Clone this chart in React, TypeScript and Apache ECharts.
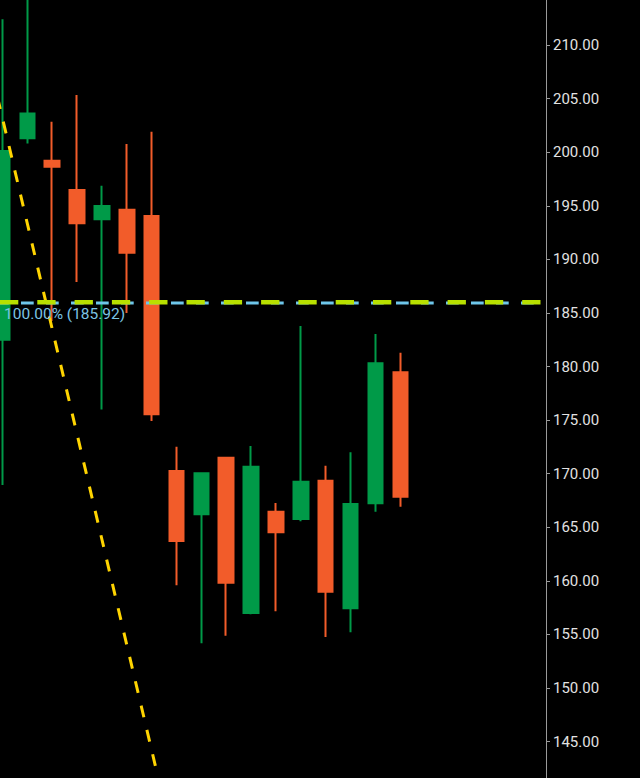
import React, { useEffect, useRef } from 'react';
import * as echarts from 'echarts';

// slots on the time axis (17 candles + empty space on the right)
const categories = Array.from({ length: 22 }, (_, i) => String(i + 1));
const opens = [182.5, 201.3, 199.2, 196.47, 193.74, 194.63, 194.04, 170.25, 166.21, 171.5, 157.0, 166.46, 165.78, 169.35, 157.44, 167.24, 179.46];
const closes = [200.1, 203.6, 198.65, 193.36, 194.98, 190.62, 175.54, 163.72, 170.04, 159.83, 170.65, 164.53, 169.26, 158.99, 167.18, 180.3, 167.86];
const lows = [168.95, 200.8, 184.25, 187.9, 176.0, 185.0, 174.92, 159.59, 154.18, 154.89, 156.9, 157.16, 165.56, 154.77, 155.2, 166.46, 166.92];
const highs = [212.4, 215.5, 202.85, 205.33, 196.87, 200.76, 201.9, 172.52, 170.1, 171.55, 172.59, 167.27, 183.78, 170.75, 172.0, 183.04, 181.29];

const yTicks = [145, 150, 155, 160, 165, 170, 175, 180, 185, 190, 195, 200, 205, 210];
const fibPercent = 100;
const fibLevel = 185.92;
const resistanceLevel = 186.0;
const trendX = [-0.2, 6.5];
const trendY = [205.12, 139.29];

const Y_MIN = 141.61;
const Y_MAX = 214.2;
const X_MIN = -0.1006;
const X_MAX = 21.862;

const GREEN = '#009a48';
const ORANGE = '#f25c2a';

export default function App() {
  const ref = useRef<HTMLDivElement>(null);
  useEffect(() => {
    if (!ref.current) return;
    const chart = echarts.init(ref.current, undefined, { renderer: 'svg' });
    const candleData = opens.map((o, i) => [o, closes[i], lows[i], highs[i]]);
    chart.setOption({
      animation: false,
      backgroundColor: '#000000',
      grid: [
        { left: 2.5, top: 0, width: 24.86 * (categories.length - 1), height: 778, containLabel: false },
        { left: 0, top: 0, width: 546, height: 778, containLabel: false },
      ],
      xAxis: [
        { type: 'category', gridIndex: 0, data: categories, boundaryGap: false, show: false },
        { type: 'value', gridIndex: 1, min: X_MIN, max: X_MAX, show: false },
      ],
      yAxis: [
        { type: 'value', gridIndex: 0, min: Y_MIN, max: Y_MAX, show: false, splitLine: { show: false } },
        {
          type: 'value',
          gridIndex: 1,
          min: Y_MIN,
          max: Y_MAX,
          position: 'right',
          splitLine: { show: false },
          axisLine: { show: true, onZero: false, lineStyle: { color: '#9a9a9a', width: 1 } },
          axisTick: { show: true, length: 4, customValues: yTicks, lineStyle: { color: '#9a9a9a', width: 1 } },
          axisLabel: {
            show: true,
            customValues: yTicks,
            margin: 7,
            color: '#e2e2e2',
            fontSize: 15,
            fontFamily: 'Roboto',
            formatter: (v: number) => v.toFixed(2),
          },
        },
      ],
      series: [
        {
          type: 'candlestick',
          xAxisIndex: 0,
          yAxisIndex: 0,
          data: candleData,
          barWidth: 15,
          clip: false,
          z: 2,
          itemStyle: {
            color: GREEN,
            color0: ORANGE,
            borderColor: GREEN,
            borderColor0: ORANGE,
            borderWidth: 2,
          },
        },
        {
          type: 'line',
          xAxisIndex: 1,
          yAxisIndex: 1,
          data: trendX.map((x, i) => [x, trendY[i]]),
          symbol: 'none',
          z: 4,
          lineStyle: { color: '#ffd400', width: 3, type: [12, 13] },
        },
        {
          type: 'line',
          xAxisIndex: 1,
          yAxisIndex: 1,
          data: [[X_MIN, fibLevel], [X_MAX, fibLevel]],
          symbol: 'none',
          z: 5,
          lineStyle: { color: '#6ec6ea', width: 3, type: [12.7, 12.3], dashOffset: 4.3 },
        },
        {
          type: 'line',
          xAxisIndex: 1,
          yAxisIndex: 1,
          data: [[X_MIN, resistanceLevel], [X_MAX, resistanceLevel]],
          symbol: 'none',
          z: 6,
          lineStyle: { color: '#b8e000', width: 4.3, type: [18.3, 19] },
        },
      ],
      graphic: [
        {
          type: 'text',
          x: 4,
          y: 314,
          z: 10,
          style: {
            text: `${fibPercent.toFixed(2)}% (${fibLevel.toFixed(2)})`,
            fill: '#7cc4e4',
            fontSize: 15.5,
            fontFamily: 'Roboto',
            verticalAlign: 'middle',
          },
        },
      ],
    });
    return () => chart.dispose();
  }, []);
  return <div ref={ref} style={{ position: 'fixed', left: 0, top: 0, width: 640, height: 778 }} />;
}
